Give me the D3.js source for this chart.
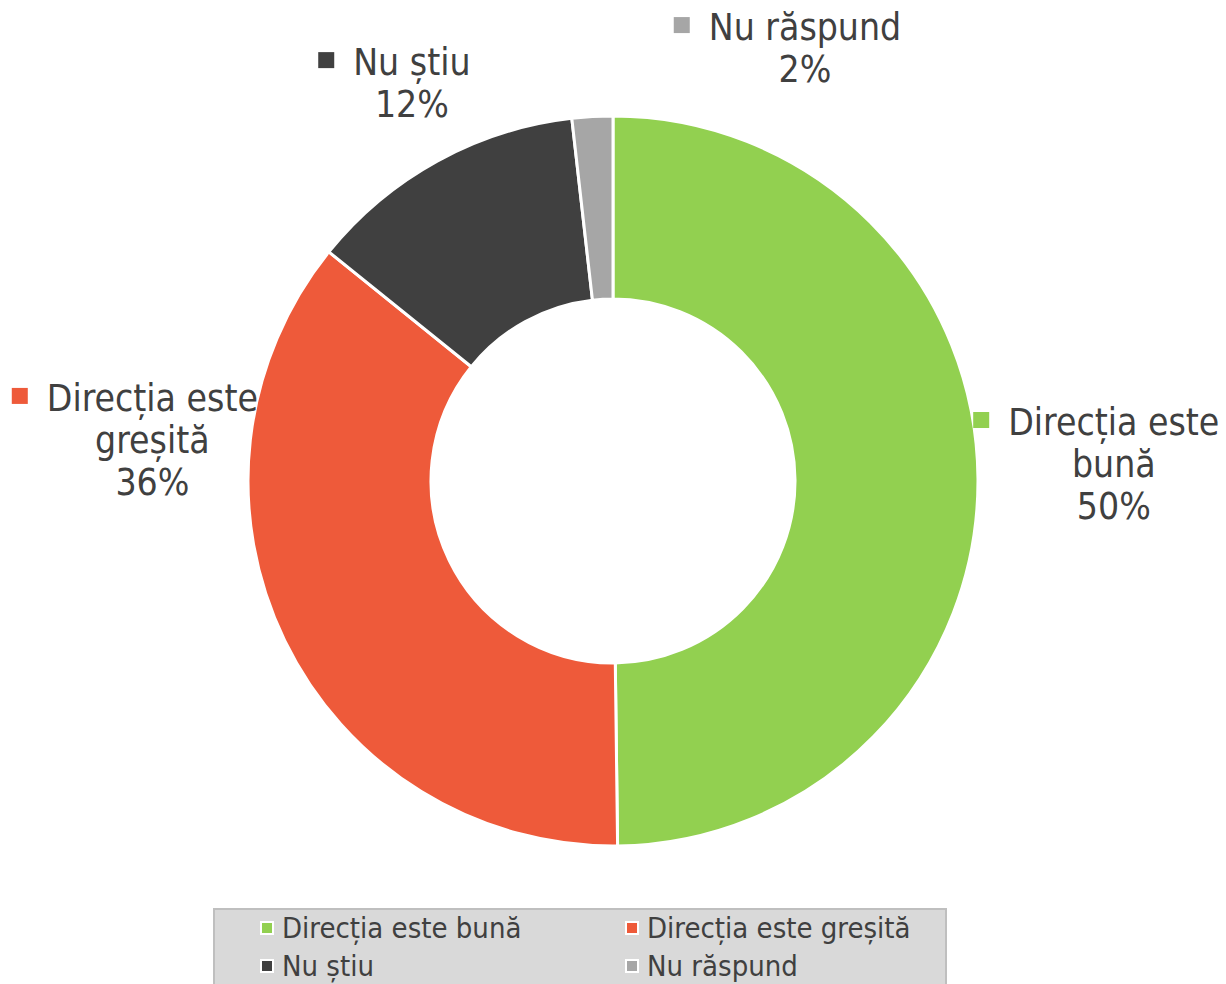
<!DOCTYPE html>
<html>
<head>
<meta charset="utf-8">
<script src="https://cdn.jsdelivr.net/npm/d3@7"></script>
<style>
  body { margin: 0; background: #fff; }
  text { font-family: "DejaVu Sans Condensed", "DejaVu Sans", sans-serif; font-stretch: condensed; fill: #404040; }
</style>
</head>
<body>
<div id="chart"></div>
<script>
// datele graficului
const categories = ["Direcția este bună", "Direcția este greșită", "Nu știu", "Nu răspund"];
const values = [49.8, 36.0, 12.4, 1.8];
const valueLabels = ["50%", "36%", "12%", "2%"];
const labelLines = [["Direcția este", "bună"], ["Direcția este", "greșită"], ["Nu știu"], ["Nu răspund"]];
const colors = ["#92d050", "#ee5a3a", "#404040", "#a6a6a6"];

const width = 1226, height = 984;
const cx = 613, cy = 481, outerR = 365, innerR = 182;

// pozitia etichetelor fata de centru (in unitati de raza)
const labelPos = [[1.372, -0.126], [-1.262, -0.192], [-0.551, -1.112], [0.526, -1.208]];

const svg = d3.select("#chart").append("svg")
  .attr("width", width)
  .attr("height", height);

const data = categories.map((c, i) => ({ name: c, value: values[i], label: valueLabels[i], lines: labelLines[i], color: colors[i] }));

const pie = d3.pie().sort(null).value(d => d.value);
const arc = d3.arc().innerRadius(innerR).outerRadius(outerR);

const g = svg.append("g").attr("transform", `translate(${cx},${cy})`);

g.selectAll("path")
  .data(pie(data))
  .join("path")
  .attr("d", arc)
  .attr("fill", d => d.data.color)
  .attr("stroke", "#fff")
  .attr("stroke-width", 3)
  .attr("stroke-linejoin", "round");

// etichete
const fs = 37, lh = 42;
data.forEach((d, i) => {
  const x = cx + labelPos[i][0] * outerR;
  const y = cy + labelPos[i][1] * outerR;
  const lg = svg.append("g");
  const lines = d.lines.concat([d.label]);
  lines.forEach((t, k) => {
    lg.append("text")
      .attr("x", x)
      .attr("y", y + k * lh)
      .attr("text-anchor", "middle")
      .style("font-size", fs + "px")
      .text(t);
  });
  // patratel in fata primei linii
  const first = lg.select("text").node();
  const w = first.getComputedTextLength();
  lg.append("rect")
    .attr("x", x - w / 2 - 35)
    .attr("y", y - 23)
    .attr("width", 16)
    .attr("height", 16)
    .attr("fill", d.color);
});

// legenda
const legX = 214, legY = 909, legW = 732, legH = 90;
svg.append("rect")
  .attr("x", legX).attr("y", legY)
  .attr("width", legW).attr("height", legH)
  .attr("fill", "#d9d9d9")
  .attr("stroke", "#bfbfbf")
  .attr("stroke-width", 2);

const colX = [262, 627], rowY = [938, 976];
data.forEach((d, i) => {
  const x = colX[i % 2], y = rowY[Math.floor(i / 2)];
  svg.append("rect")
    .attr("x", x - 1).attr("y", y - 16)
    .attr("width", 12).attr("height", 12)
    .attr("fill", d.color)
    .attr("stroke", "#fff")
    .attr("stroke-width", 2);
  svg.append("text")
    .attr("x", x + 20)
    .attr("y", y)
    .style("font-size", "29px")
    .text(d.name);
});
</script>
</body>
</html>
